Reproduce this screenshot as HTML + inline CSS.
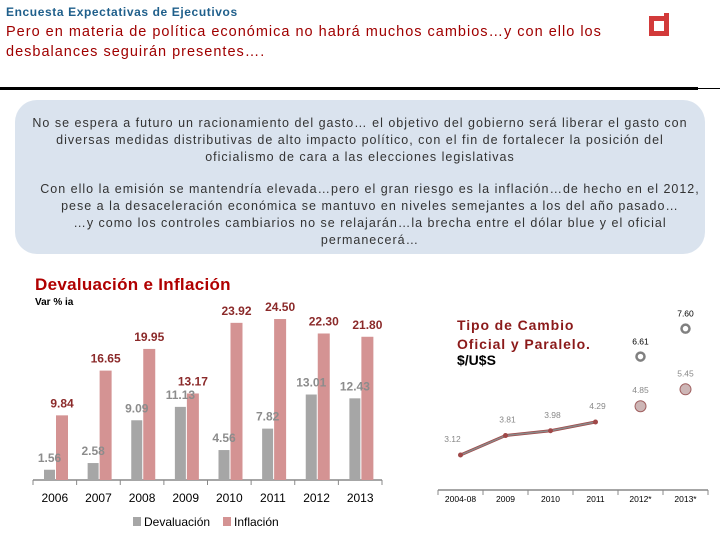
<!DOCTYPE html>
<html><head><meta charset="utf-8"><style>
body{margin:0;width:720px;height:540px;background:#fff;font-family:"Liberation Sans",sans-serif;position:relative;overflow:hidden}
.a{position:absolute;white-space:nowrap}
.box{position:absolute;left:15px;top:100px;width:690px;height:154px;background:#dae3ee;border-radius:22px}
.bt{position:absolute;left:0;width:720px;text-align:center;font-size:12.5px;color:#333;line-height:17px;letter-spacing:1px}
</style></head><body>
<div class="a" style="left:6px;top:5px;font-size:12px;font-weight:bold;color:#1f5f8b;letter-spacing:0.6px">Encuesta Expectativas de Ejecutivos</div>
<div class="a" style="left:6px;top:22px;font-size:14.5px;color:#a00000;line-height:20px;letter-spacing:1px">Pero en materia de política económica no habrá muchos cambios…y con ello los<br>desbalances seguirán presentes….</div>
<div class="a" style="left:649px;top:16px;width:10px;height:10px;border:5px solid #d23a3a"></div>
<div class="a" style="left:664px;top:13px;width:5px;height:5px;background:#d23a3a"></div>
<div class="a" style="left:0;top:87px;width:698px;height:3px;background:#000"></div>
<div class="a" style="left:698px;top:88px;width:22px;height:1px;background:#000"></div>
<div class="box"></div>
<div class="bt" style="top:115px">No se espera a futuro un racionamiento del gasto… el objetivo del gobierno será liberar el gasto con<br>diversas medidas distributivas de alto impacto político, con el fin de fortalecer la posición del<br>oficialismo de cara a las elecciones legislativas</div>
<div class="bt" style="top:181px;left:10px">Con ello la emisión se mantendría elevada…pero el gran riesgo es la inflación…de hecho en el 2012,<br>pese a la desaceleración económica se mantuvo en niveles semejantes a los del año pasado…<br>…y como los controles cambiarios no se relajarán…la brecha entre el dólar blue y el oficial<br>permanecerá…</div>
<div class="a" style="left:35px;top:275px;font-size:17px;font-weight:bold;color:#b00000;letter-spacing:0.3px">Devaluación e Inflación</div>
<div class="a" style="left:35px;top:297px;font-size:10px;font-weight:bold">Var % ia</div>
<svg id="c1" class="a" style="left:0;top:0" width="720" height="540"></svg>
<script>
const years=["2006","2007","2008","2009","2010","2011","2012","2013"];
const deval=[1.56,2.58,9.09,11.13,4.56,7.82,13.01,12.43];
const infl=[9.84,16.65,19.95,13.17,23.92,24.50,22.30,21.80];
const fxCats=["2004-08","2009","2010","2011","2012*","2013*"];
const official=[3.12,3.81,3.98,4.29,4.85,5.45];
const parallel=[null,null,null,null,6.61,7.60];
const NS="http://www.w3.org/2000/svg";
const svg=document.getElementById('c1');
function mk(t,at,txt){const e=document.createElementNS(NS,t);for(const k in at)e.setAttribute(k,at[k]);if(txt!=null)e.textContent=txt;svg.appendChild(e);return e;}
const x0=33,x1=382,base=480,k=6.57,cw=(x1-x0)/years.length;
const y=v=>base-v*k;
let ax=mk('line',{x1:x0,x2:x1,y1:base,y2:base,stroke:'#888','stroke-width':1.5});

years.forEach((yr,i)=>{
 const cx=x0+cw*i;
 const t=mk('line',{x1:cx,x2:cx,y1:base,y2:base+5,stroke:'#888'});
 
 const gx=cx+11;
 const b1=mk('rect',{x:gx,y:y(deval[i]),width:11,height:deval[i]*k,fill:'#a6a6a6'});
 
 const b2=mk('rect',{x:gx+12,y:y(infl[i]),width:12,height:infl[i]*k,fill:'#d49393'});
 
 const l1=mk('text',{x:gx+5.5,y:y(deval[i])-8,'text-anchor':'middle','font-size':12,'font-weight':'bold',fill:'#8c8c8c'},deval[i].toFixed(2));
 
 const l2=mk('text',{x:gx+18,y:y(infl[i])-8,'text-anchor':'middle','font-size':12,'font-weight':'bold',fill:'#8b2a2a'},infl[i].toFixed(2));
 
 const yl=mk('text',{x:cx+cw/2,y:502,'text-anchor':'middle','font-size':12,fill:'#000'},yr);
 
});
const lastT=mk('line',{x1:x1,x2:x1,y1:base,y2:base+5,stroke:'#888'});

let r=mk('rect',{x:133,y:517,width:8,height:9,fill:'#a6a6a6'});
let t=mk('text',{x:144,y:526,'font-size':12},'Devaluación');
r=mk('rect',{x:223,y:517,width:8,height:9,fill:'#d49393'});
t=mk('text',{x:234,y:526,'font-size':12},'Inflación');
// FX chart
const fx0=438,fx1=708,fbase=490,fcw=(fx1-fx0)/fxCats.length,fk=28.2;
const fy=v=>543-v*fk;const fx=i=>fx0+fcw*(i+0.5);
ax=mk('line',{x1:fx0,x2:fx1,y1:fbase,y2:fbase,stroke:'#888','stroke-width':1.5});

fxCats.forEach((c,i)=>{
 const tk=mk('line',{x1:fx0+fcw*i,x2:fx0+fcw*i,y1:fbase,y2:fbase+5,stroke:'#888'});
 
 const l=mk('text',{x:fx(i),y:502,'text-anchor':'middle','font-size':8.5,fill:'#000'},c);
 
});
const ft=mk('line',{x1:fx1,x2:fx1,y1:fbase,y2:fbase+5,stroke:'#888'});
let pts=[];for(let i=0;i<4;i++)pts.push(fx(i)+','+fy(official[i]));
let pl=mk('polyline',{points:pts.join(' '),fill:'none',stroke:'#a04848','stroke-width':3});

pl=mk('polyline',{points:pts.join(' '),fill:'none',stroke:'#8a8a8a','stroke-width':1.5});

official.forEach((v,i)=>{
 let p;
 if(i<4)p=mk('circle',{cx:fx(i),cy:fy(v),r:2.5,fill:'#a04848'});
 else p=mk('circle',{cx:fx(i),cy:fy(v),r:5.5,fill:'#cdb6b6',stroke:'#a06060','stroke-width':1});
 
 const l=mk('text',{x:fx(i)+(i==0?-8:i<4?2:0),y:fy(v)-13,'text-anchor':'middle','font-size':8.5,fill:'#888'},v.toFixed(2));
 
});
parallel.forEach((v,i)=>{
 if(v==null)return;
 const p=mk('circle',{cx:fx(i),cy:fy(v),r:4,fill:'none',stroke:'#808080','stroke-width':2.5});
 
 const l=mk('text',{x:fx(i),y:fy(v)-12,'text-anchor':'middle','font-size':8.5,fill:'#000'},v.toFixed(2));
 
});
</script>
<div class="a" style="left:457px;top:316px;font-size:14px;font-weight:bold;color:#8b1a1a;line-height:19px;letter-spacing:0.9px">Tipo de Cambio<br>Oficial y Paralelo.</div>
<div class="a" style="left:457px;top:352px;font-size:14px;font-weight:bold;color:#000">$/U$S</div>
</body></html>
